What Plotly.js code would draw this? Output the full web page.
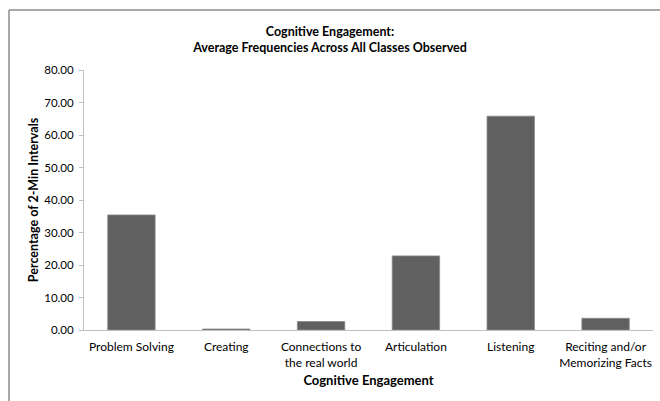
<!DOCTYPE html>
<html><head><meta charset="utf-8">
<script src="https://cdn.plot.ly/plotly-3.0.1.min.js"></script>
<style>html,body{margin:0;padding:0;background:#fff}#chart{width:660px;height:401px}</style>
</head><body><div id="chart"></div>
<script>
const categories = ["Problem Solving", "Creating", "Connections to<br>the real world", "Articulation", "Listening", "Reciting and/or<br>Memorizing Facts"];
const values = [35.4, 0.3, 2.6, 22.8, 65.8, 3.6];
const yTicks = [0, 10, 20, 30, 40, 50, 60, 70, 80];

const font = "Lato, 'Open Sans', sans-serif";
Plotly.newPlot("chart", [{
  type: "bar", x: categories, y: values,
  marker: {color: "#606060", line: {color: "#8a8a8a", width: 0.8}},
  hoverinfo: "none"
}], {
  width: 660, height: 401,
  margin: {l: 84, r: 7, t: 70, b: 71},
  paper_bgcolor: "#fff", plot_bgcolor: "#fff",
  font: {family: font, size: 12, color: "#000"},
  bargap: 0.5,
  showlegend: false,
  title: {text: "<b>Cognitive Engagement:<br>Average Frequencies Across All Classes Observed</b>",
          font: {family: font, size: 12.5, color: "#000"}, x: 0.5, xanchor: "center", yref: "container", y: 1 - 35.5/401, yanchor: "middle"},
  xaxis: {
    showline: true, linecolor: "#c0c0c0", linewidth: 1, ticks: "", showgrid: false, zeroline: false,
    tickfont: {family: font, size: 12}, ticklabelstandoff: 6,
    title: {text: "<b>Cognitive Engagement</b>", font: {family: font, size: 13}, standoff: 6}
  },
  yaxis: {
    range: [0, 80], tickvals: yTicks, tickformat: ".2f",
    showline: true, linecolor: "#c0c0c0", linewidth: 1, ticks: "outside", ticklen: 4, tickcolor: "#c0c0c0",
    showgrid: false, zeroline: false, tickfont: {family: font, size: 11.5}, ticklabelstandoff: 3,
    title: {text: "<b>Percentage of 2-Min Intervals</b>", font: {family: font, size: 12.5}, standoff: 2}
  },
  shapes: [
    {type: "line", xref: "paper", yref: "paper", x0: -75/569, x1: 576/569, y0: 1 + 60/260, y1: 1 + 60/260, line: {color: "#8c8c8c", width: 1.5}},
    {type: "line", xref: "paper", yref: "paper", x0: -75/569, x1: -75/569, y0: 1 + 60/260, y1: -71/260, line: {color: "#8c8c8c", width: 1.5}}
  ]
}, {staticPlot: true});
</script></body></html>
